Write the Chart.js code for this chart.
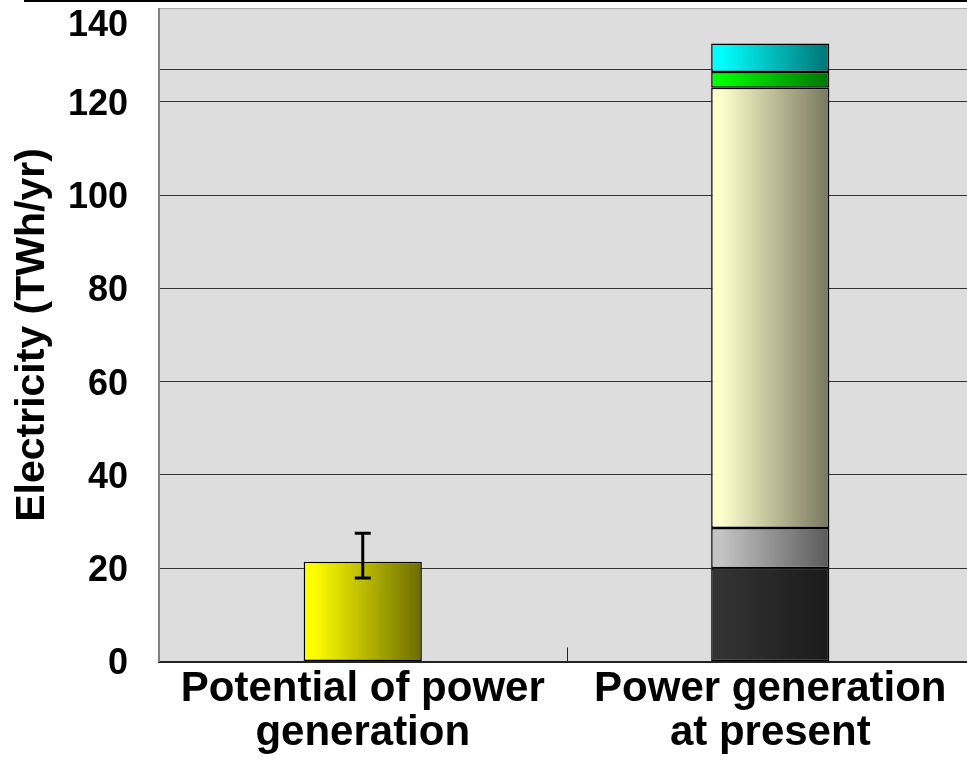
<!DOCTYPE html>
<html>
<head>
<meta charset="utf-8">
<script src="https://cdn.jsdelivr.net/npm/chart.js@4/dist/chart.umd.min.js"></script>
<style>
  html, body { margin: 0; padding: 0; background: #fff; overflow: hidden; }
  #wrap { position: relative; width: 967px; height: 765px; overflow: hidden; }
  #frame { position: absolute; left: 24px; top: 0; width: 1000px; border-top: 2px solid #000; }
  canvas { position: absolute; left: 0; top: 0; }
</style>
</head>
<body>
<div id="wrap">
  <canvas id="chart" width="990" height="765"></canvas>
  <div id="frame"></div>
</div>
<script>
// categories on the x axis (two lines each)
const categories = [['Potential of power', 'generation'], ['Power generation', 'at present']];

// series values (TWh/yr)
const potentialValues = [21.4, null];
const darkValues = [null, 20.0];
const greyValues = [null, 8.6];
const creamValues = [null, 94.4];
const greenValues = [null, 3.4];
const cyanValues = [null, 6.1];

// error bar on the potential bar
const errorLow = [17.9, null];
const errorHigh = [27.5, null];

// y axis
const yTickValues = [0, 20, 40, 60, 80, 100, 120, 140];
const extraGridValues = [127];

const barPct = 0.29;
const fontFamily = '"Liberation Sans", Arial, sans-serif';

// horizontal gradient for each bar, bright on the left, dark on the right
function barGradient(light, dark) {
  return function (context) {
    const chart = context.chart;
    const xScale = chart.scales.x;
    if (!xScale || context.dataIndex === undefined || !chart.chartArea) return light;
    const center = xScale.getPixelForValue(context.dataIndex);
    const catWidth = xScale.getPixelForValue(1) - xScale.getPixelForValue(0);
    const half = catWidth * barPct / 2;
    const g = chart.ctx.createLinearGradient(center - half, 0, center + half, 0);
    g.addColorStop(0, light);
    g.addColorStop(0.08, light);
    g.addColorStop(1, dark);
    return g;
  };
}

function makeDataset(label, data, light, dark) {
  return {
    label: label,
    data: data,
    backgroundColor: barGradient(light, dark),
    borderColor: '#000',
    borderWidth: 1.5,
    borderSkipped: false,
    categoryPercentage: 1.0,
    barPercentage: barPct
  };
}

// grey plot background
const plotBackground = {
  id: 'plotBackground',
  beforeDraw(chart) {
    const a = chart.chartArea;
    const c = chart.ctx;
    c.save();
    c.fillStyle = '#dddddd';
    c.fillRect(a.left, a.top, a.right - a.left, a.bottom - a.top);
    c.restore();
  }
};

// error bars drawn from errorLow / errorHigh
const errorBars = {
  id: 'errorBars',
  afterDatasetsDraw(chart) {
    const c = chart.ctx;
    const xs = chart.scales.x;
    const ys = chart.scales.y;
    c.save();
    c.strokeStyle = '#000';
    c.lineWidth = 3;
    for (let i = 0; i < errorLow.length; i++) {
      if (errorLow[i] == null) continue;
      const x = xs.getPixelForValue(i);
      const y1 = ys.getPixelForValue(errorLow[i]);
      const y2 = ys.getPixelForValue(errorHigh[i]);
      c.beginPath();
      c.moveTo(x, y1); c.lineTo(x, y2);
      c.moveTo(x - 8, y1); c.lineTo(x + 8, y1);
      c.moveTo(x - 8, y2); c.lineTo(x + 8, y2);
      c.stroke();
    }
    c.restore();
  }
};

// y tick labels and the small category divider tick
const axisExtras = {
  id: 'axisExtras',
  afterDraw(chart) {
    const c = chart.ctx;
    const a = chart.chartArea;
    const ys = chart.scales.y;
    const xs = chart.scales.x;
    c.save();
    c.fillStyle = '#000';
    c.font = 'bold 36px ' + fontFamily;
    c.textAlign = 'right';
    c.textBaseline = 'middle';
    yTickValues.forEach(v => {
      const y = Math.max(ys.getPixelForValue(v) + 3, 26);
      c.fillText(String(v), a.left - 31, y);
    });
    // divider tick between the two categories
    c.strokeStyle = '#222';
    c.lineWidth = 1;
    for (let i = 0; i < categories.length - 1; i++) {
      const x = Math.round((xs.getPixelForValue(i) + xs.getPixelForValue(i + 1)) / 2) + 0.5;
      c.beginPath();
      c.moveTo(x, a.bottom);
      c.lineTo(x, a.bottom - 14);
      c.stroke();
    }
    c.restore();
  }
};

new Chart(document.getElementById('chart').getContext('2d'), {
  type: 'bar',
  data: {
    labels: categories,
    datasets: [
      makeDataset('Potential', potentialValues, '#ffff00', '#6b6b00'),
      makeDataset('Segment 1', darkValues, '#333333', '#1a1a1a'),
      makeDataset('Segment 2', greyValues, '#c4c4c4', '#5a5a5a'),
      makeDataset('Segment 3', creamValues, '#ffffcc', '#77775f'),
      makeDataset('Segment 4', greenValues, '#00ff00', '#007400'),
      makeDataset('Segment 5', cyanValues, '#00ffff', '#007373')
    ]
  },
  options: {
    responsive: false,
    animation: false,
    layout: { padding: { top: 8.5, left: 0, right: 16, bottom: 0 } },
    plugins: {
      legend: { display: false },
      tooltip: { enabled: false }
    },
    scales: {
      x: {
        stacked: true,
        grid: { display: false, drawTicks: false },
        border: { display: true, color: '#222', width: 2 },
        ticks: {
          color: '#000',
          padding: 5,
          maxRotation: 0,
          autoSkip: false,
          font: { family: fontFamily, size: 42, weight: 'bold', lineHeight: 1.07 }
        },
        afterFit(scale) { scale.height = 103.5; }
      },
      y: {
        stacked: true,
        min: 0,
        max: 140,
        afterBuildTicks(scale) {
          const vals = yTickValues.concat(extraGridValues).sort((a, b) => a - b);
          scale.ticks = vals.map(v => ({ value: v }));
        },
        afterFit(scale) { scale.width = 159; },
        ticks: { display: false },
        grid: {
          drawTicks: false,
          lineWidth: 1,
          color: ctx => (ctx.tick && ctx.tick.value === 140 ? '#aaaaaa' : '#333333')
        },
        border: { display: true, color: '#808080', width: 2 },
        title: {
          display: true,
          text: 'Electricity (TWh/yr)',
          color: '#000',
          padding: { top: 8, bottom: 0 },
          font: { family: fontFamily, size: 41, weight: 'bold', lineHeight: 1.2 }
        }
      }
    }
  },
  plugins: [plotBackground, errorBars, axisExtras]
});
</script>
</body>
</html>
